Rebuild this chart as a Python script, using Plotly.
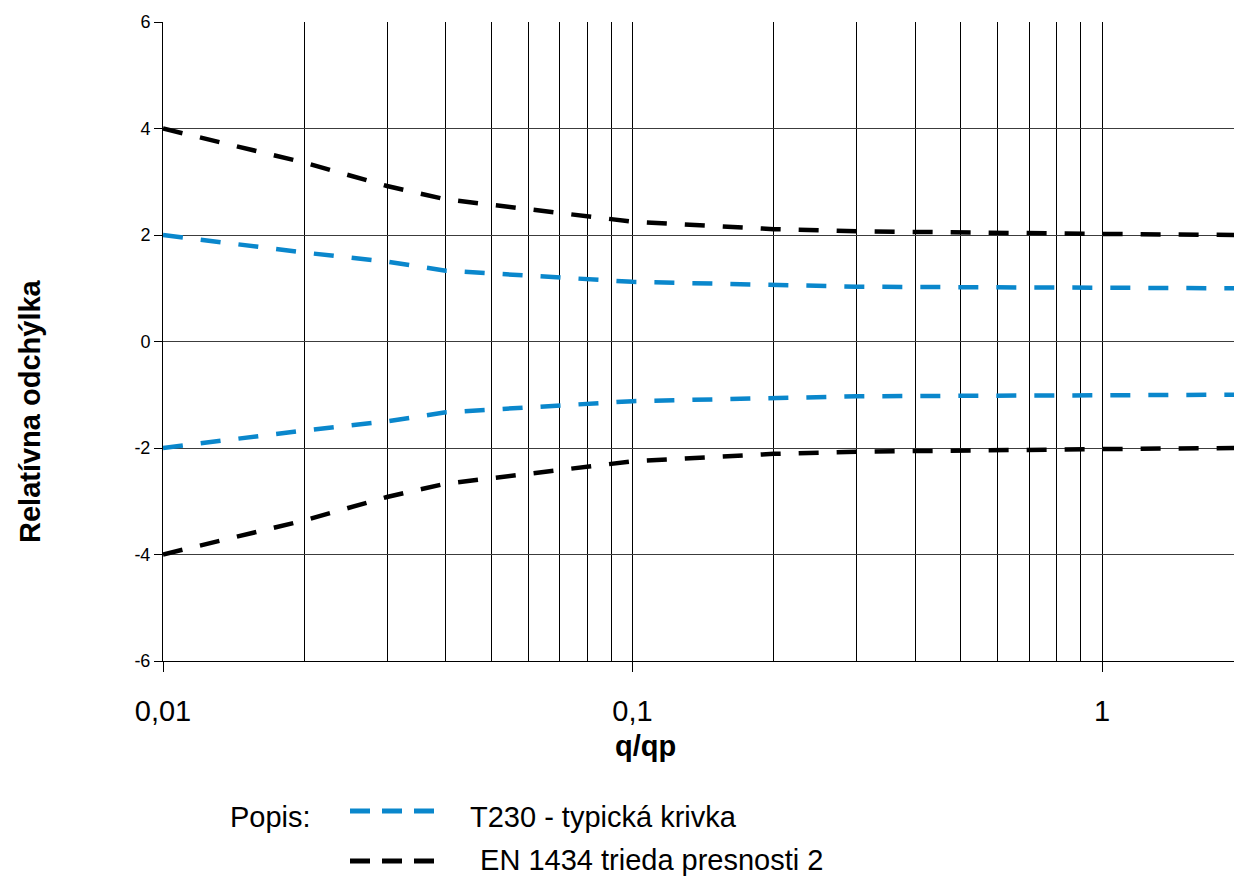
import plotly.graph_objects as go

# ---- data ----
q_ratio = [0.01, 0.02, 0.03, 0.04, 0.1, 0.15, 0.2, 0.3, 0.5, 1.0, 1.91]
t230_upper = [2.0, 1.67, 1.50, 1.33, 1.12, 1.08, 1.05, 1.03, 1.02, 1.01, 1.0]
t230_lower = [-2.0, -1.67, -1.50, -1.33, -1.12, -1.08, -1.05, -1.03, -1.02, -1.01, -1.0]
en1434_upper = [4.0, 3.36, 2.92, 2.67, 2.25, 2.16, 2.11, 2.07, 2.04, 2.02, 2.0]
en1434_lower = [-4.0, -3.36, -2.92, -2.67, -2.25, -2.16, -2.11, -2.07, -2.04, -2.02, -2.0]

x_tick_vals = [0.01, 0.1, 1]
x_tick_text = ["0,01", "0,1", "1"]
x_minor_vals = [0.02, 0.03, 0.04, 0.05, 0.06, 0.07, 0.08, 0.09,
                0.2, 0.3, 0.4, 0.5, 0.6, 0.7, 0.8, 0.9]
y_tick_vals = [-6, -4, -2, 0, 2, 4, 6]
y_tick_text = ["-6", "-4", "-2", "0", "2", "4", "6"]

legend_labels = ["T230 - typická krivka", " EN 1434 trieda presnosti 2"]

BLUE = "#0A87CC"
BLACK = "#000000"
DASH = "20px,18px"

W, H = 1234, 879
L, R, T, B = 163, 0, 22, 218
PW, PH = W - L - R, H - T - B


def px(x):
    return (x - L) / PW


def py(y):
    return (H - B - y) / PH


fig = go.Figure()
for yv, col in [(t230_upper, BLUE), (t230_lower, BLUE),
                (en1434_upper, BLACK), (en1434_lower, BLACK)]:
    fig.add_trace(go.Scatter(
        x=q_ratio, y=yv, mode="lines",
        line=dict(color=col, width=4.5, dash=DASH),
        showlegend=False, hoverinfo="skip"))

font = "Liberation Sans, Arial, sans-serif"

fig.update_layout(
    width=W, height=H,
    margin=dict(l=L, r=R, t=T, b=B),
    paper_bgcolor="white", plot_bgcolor="white",
    font=dict(family=font, color="black"),
    xaxis=dict(
        type="log", range=[-2, 0.281],
        tickvals=x_tick_vals, ticktext=x_tick_text,
        tickfont=dict(size=29, family=font),
        ticks="outside", ticklen=10, tickcolor="black", tickwidth=1,
        ticklabelstandoff=14,
        showgrid=True, gridcolor="black", gridwidth=1,
        minor=dict(tickvals=x_minor_vals, showgrid=True,
                   gridcolor="black", gridwidth=1, ticks=""),
        showline=True, linecolor="black", linewidth=1,
        zeroline=False,
    ),
    yaxis=dict(
        range=[-6, 6], tickvals=y_tick_vals, ticktext=y_tick_text,
        tickfont=dict(size=18, family=font),
        ticks="outside", ticklen=8, tickcolor="black", tickwidth=1,
        showgrid=True, gridcolor="#3c3c3c", gridwidth=1,
        showline=True, linecolor="black", linewidth=1,
        zeroline=False,
    ),
)

annotations = [
    dict(text="<b>Relatívna odchýlka</b>", textangle=-90,
         x=px(30), y=py(411), xref="paper", yref="paper",
         xanchor="center", yanchor="middle", showarrow=False,
         font=dict(size=29, family=font)),
    dict(text="<b>q/qp</b>", x=px(645), y=py(746), xref="paper", yref="paper",
         xanchor="center", yanchor="middle", showarrow=False,
         font=dict(size=29, family=font)),
    dict(text="Popis:", x=px(228), y=py(817), xref="paper", yref="paper",
         xanchor="left", yanchor="middle", showarrow=False,
         font=dict(size=29, family=font)),
    dict(text=legend_labels[0], x=px(468), y=py(817), xref="paper", yref="paper",
         xanchor="left", yanchor="middle", showarrow=False,
         font=dict(size=29, family=font)),
    dict(text=legend_labels[1], x=px(470), y=py(860), xref="paper", yref="paper",
         xanchor="left", yanchor="middle", showarrow=False,
         font=dict(size=29, family=font)),
]
fig.update_layout(annotations=annotations)

shapes = [
    dict(type="line", xref="paper", yref="paper",
         x0=px(350), x1=px(434), y0=py(811), y1=py(811),
         line=dict(color=BLUE, width=5, dash="20px,12px")),
    dict(type="line", xref="paper", yref="paper",
         x0=px(350), x1=px(434), y0=py(861), y1=py(861),
         line=dict(color=BLACK, width=5, dash="20px,12px")),
]
fig.update_layout(shapes=shapes)

fig.write_html(
    "out.html",
    config={"displayModeBar": False},
    post_script="document.body.style.margin='0';document.body.style.overflow='hidden';",
)
